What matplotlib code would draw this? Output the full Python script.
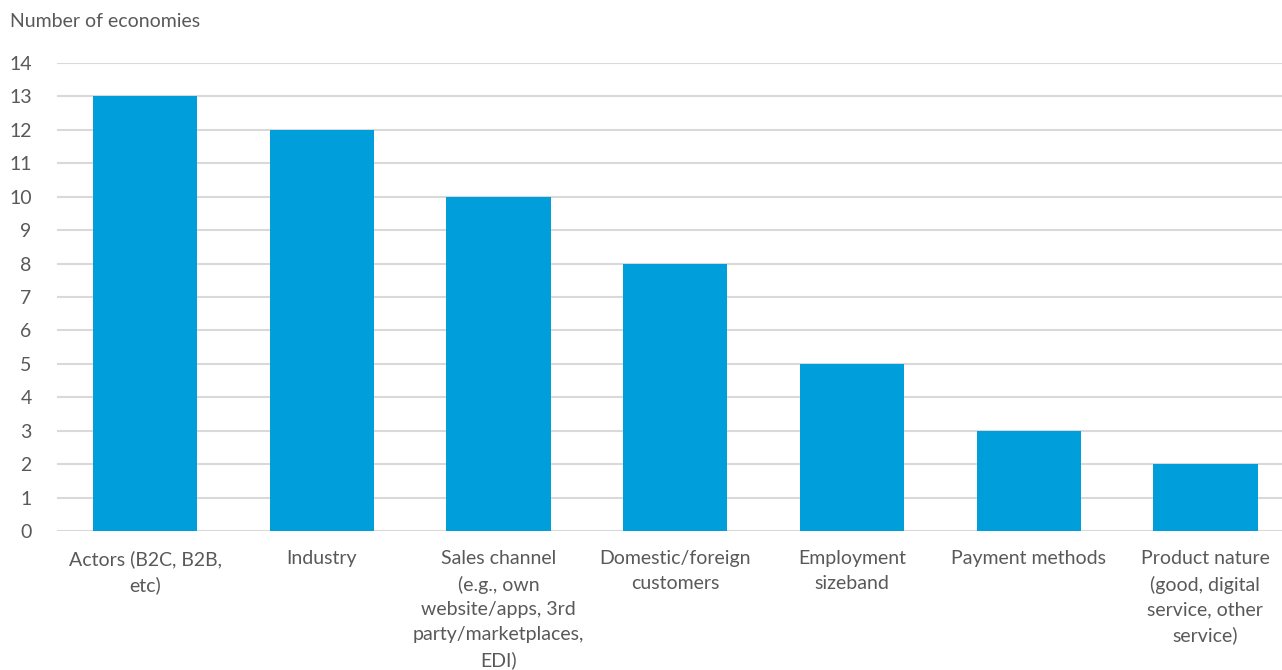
import matplotlib.pyplot as plt
import numpy as np

categories = [
    "Actors (B2C, B2B,\netc)",
    "Industry",
    "Sales channel\n(e.g., own\nwebsite/apps, 3rd\nparty/marketplaces,\nEDI)",
    "Domestic/foreign\ncustomers",
    "Employment\nsizeband",
    "Payment methods",
    "Product nature\n(good, digital\nservice, other\nservice)",
]
values = [13, 12, 10, 8, 5, 3, 2]
yticks = list(range(0, 15))

plt.rcParams['font.family'] = ['Lato', 'DejaVu Sans']
text_col = '#595959'

fig = plt.figure(figsize=(12.82, 6.70), dpi=100)
ax = fig.add_axes([0.0442, 0.2075, 0.965, 0.6985])

x = np.arange(len(categories))
ax.bar(x, values, width=0.59, color='#009FDB', zorder=3)

ax.set_xlim(-0.5, len(categories) - 0.5)
ax.set_ylim(0, 14)
ax.set_yticks(yticks)
ax.set_xticks(x)
ax.set_xticklabels(categories, fontsize=14, color=text_col, linespacing=1.55)
ax.tick_params(axis='both', length=0, labelsize=14, labelcolor=text_col)
ax.tick_params(axis='x', pad=14)
ax.tick_params(axis='y', pad=18)

ax.grid(axis='y', color='#d9d9d9', linewidth=1.5, zorder=0)
for s in ax.spines.values():
    s.set_visible(False)

fig.text(0.008, 0.968, "Number of economies", fontsize=14, color=text_col,
         ha='left', va='center')

fig.savefig('out.png', dpi=100)
